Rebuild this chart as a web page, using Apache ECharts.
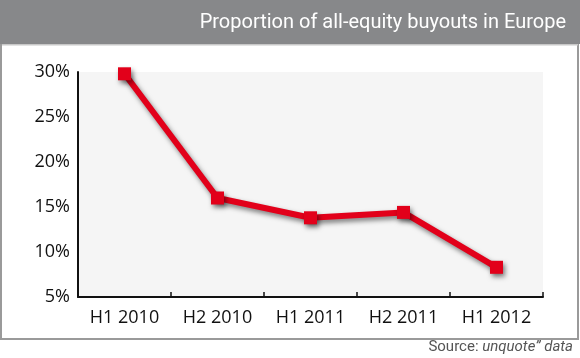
<!DOCTYPE html>
<html>
<head>
<meta charset="utf-8">
<script src="https://cdn.jsdelivr.net/npm/echarts@6/dist/echarts.min.js"></script>
<style>
html,body{margin:0;padding:0;background:#fff;}
#main{width:580px;height:358px;}
</style>
</head>
<body>
<div id="main"></div>
<script>
var categories = ['H1 2010', 'H2 2010', 'H1 2011', 'H2 2011', 'H1 2012'];
var values = [29.8, 16.0, 13.8, 14.4, 8.3];
var yTicks = [5, 10, 15, 20, 25, 30];
var titleText = 'Proportion of all-equity buyouts in Europe';

var chart = echarts.init(document.getElementById('main'), null, {renderer: 'canvas'});
var labelFont = '"Open Sans", "Noto Sans", sans-serif';
var narrowFont = '"Liberation Sans Narrow", "Roboto", sans-serif';

chart.setOption({
  animation: false,
  backgroundColor: '#fff',
  graphic: [
    {type: 'rect', shape: {x: 1, y: 0, width: 577, height: 339}, style: {fill: 'none', stroke: '#9a9a9a', lineWidth: 2}, z: 0},
    {type: 'rect', shape: {x: 0, y: 0, width: 580, height: 44}, style: {fill: '#87888a'}, z: 1},
    {type: 'rect', shape: {x: 2, y: 44, width: 576, height: 1.5}, style: {fill: '#c8c8c8'}, z: 1},
    {type: 'text', right: 14, top: 13, style: {text: titleText, fill: '#ffffff', font: '20px ' + narrowFont}, z: 2},
    {type: 'text', right: 7, top: 340, style: {
      text: '{n|Source: }{i|unquote\u201d data}',
      rich: {
        n: {fill: '#555', font: '15px ' + narrowFont},
        i: {fill: '#555', font: 'italic 15px ' + narrowFont}
      }
    }, z: 2}
  ],
  grid: {left: 78, right: 37, top: 72, bottom: 61, show: true, backgroundColor: '#f5f5f5', borderWidth: 0},
  xAxis: {
    type: 'category',
    data: categories,
    boundaryGap: true,
    axisLine: {show: true, lineStyle: {color: '#111', width: 2}},
    axisTick: {show: true, inside: true, length: 5, alignWithLabel: false, lineStyle: {color: '#111', width: 1.5}},
    axisLabel: {color: '#111', fontSize: 18, fontFamily: labelFont, margin: 12},
    splitLine: {show: false}
  },
  yAxis: {
    type: 'value',
    min: 5, max: 30, interval: 5,
    axisLine: {show: true, lineStyle: {color: '#111', width: 2}},
    axisTick: {show: false},
    splitLine: {show: false},
    axisLabel: {
      color: '#111', fontSize: 18, fontFamily: labelFont, margin: 8,
      formatter: function (v) { return yTicks.indexOf(v) >= 0 ? v + '%' : ''; }
    }
  },
  series: [{
    type: 'line',
    data: values,
    symbol: 'rect',
    symbolSize: 13,
    lineStyle: {color: '#e2001a', width: 6, shadowColor: 'rgba(0,0,0,0.5)', shadowBlur: 5, shadowOffsetX: 2, shadowOffsetY: 3},
    itemStyle: {color: '#e2001a', shadowColor: 'rgba(0,0,0,0.5)', shadowBlur: 5, shadowOffsetX: 2, shadowOffsetY: 3},
    z: 5
  }]
});
</script>
</body>
</html>
